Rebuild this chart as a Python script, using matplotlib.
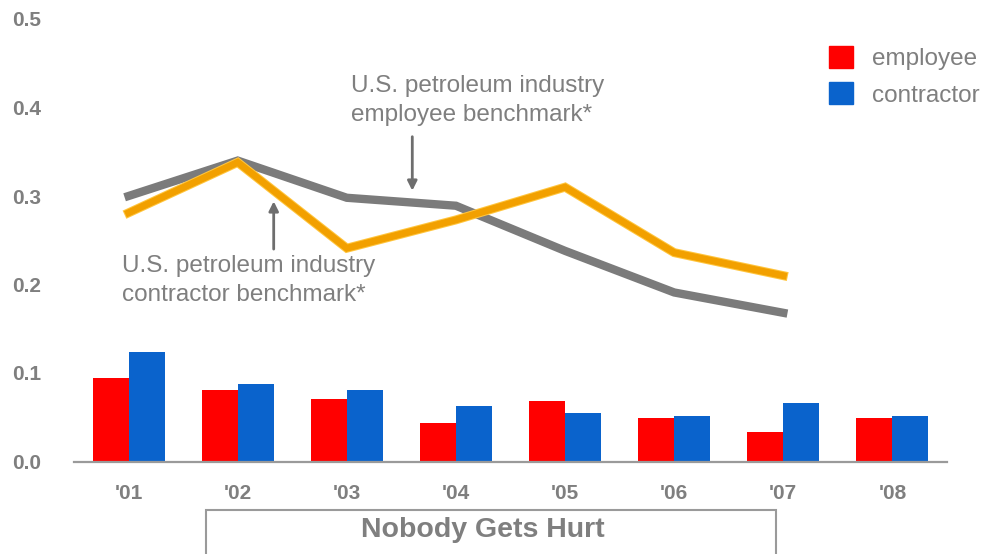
import matplotlib
matplotlib.use("Agg")
import matplotlib.pyplot as plt
import matplotlib.patheffects as pe
from matplotlib.patches import Rectangle
import numpy as np

plt.rcParams['font.family'] = ['Liberation Sans', 'DejaVu Sans']

# ---- data ----
years = ["'01", "'02", "'03", "'04", "'05", "'06", "'07", "'08"]
employee = [0.094, 0.081, 0.071, 0.043, 0.068, 0.049, 0.033, 0.049]
contractor = [0.124, 0.088, 0.081, 0.063, 0.055, 0.051, 0.066, 0.051]
bench_employee = [0.300, 0.340, 0.298, 0.289, 0.238, 0.191, 0.168]
bench_contractor = [0.281, 0.338, 0.241, 0.273, 0.310, 0.236, 0.210]
yticks = [0.0, 0.1, 0.2, 0.3, 0.4, 0.5]

RED = '#FF0000'
BLUE = '#0A63CC'
GRAY_TXT = '#7F7F7F'
GRAY_LINE = '#7B7B7B'
ORANGE = '#F2A000'

W, H = 985, 554
fig = plt.figure(figsize=(W / 100, H / 100), dpi=100)
ax_l = 74 / W
ax_r = 947 / W
ax_b = (H - 461.5) / H
ax_t = (H - 19) / H
ax = fig.add_axes([ax_l, ax_b, ax_r - ax_l, ax_t - ax_b])

x = np.arange(len(years))
bw = 0.33
ax.bar(x - bw / 2, employee, width=bw, color=RED, zorder=2)
ax.bar(x + bw / 2, contractor, width=bw, color=BLUE, zorder=2)

xl = np.arange(len(bench_employee))
ax.plot(xl, bench_employee, color=GRAY_LINE, lw=6.0, solid_joinstyle='miter',
        solid_capstyle='projecting', zorder=3)
ax.plot(xl, bench_contractor, color=ORANGE, lw=5.0, solid_joinstyle='miter',
        solid_capstyle='projecting', zorder=4,
        path_effects=[pe.Stroke(linewidth=6.5, foreground='#FFC640'), pe.Normal()])

ax.set_xlim(-0.5, 7.5)
ax.set_ylim(0, 0.5)
ax.set_xticks(x)
ax.set_xticklabels(years)
ax.set_yticks(yticks)
ax.set_yticklabels([f"{v:.1f}" for v in yticks])
ax.tick_params(axis='both', length=0, labelsize=15, labelcolor=GRAY_TXT)
ax.tick_params(axis='y', pad=23.5)
ax.tick_params(axis='x', pad=16)
for lab in ax.get_xticklabels() + ax.get_yticklabels():
    lab.set_fontweight('bold')
for s in ['top', 'right', 'left']:
    ax.spines[s].set_visible(False)
ax.spines['bottom'].set_color('#9A9A9A')
ax.spines['bottom'].set_linewidth(1.6)

# annotations
ann_fs = 17.5
ax.text(2.04, 0.408, "U.S. petroleum industry\nemployee benchmark*", fontsize=ann_fs,
        color=GRAY_TXT, ha='left', va='center', linespacing=1.42)
ax.text(-0.06, 0.205, "U.S. petroleum industry\ncontractor benchmark*", fontsize=ann_fs,
        color=GRAY_TXT, ha='left', va='center', linespacing=1.42)
ax.annotate('', xy=(2.6, 0.306), xytext=(2.6, 0.367),
            arrowprops=dict(arrowstyle='-|>', color='#6E6E6E', lw=2.0,
                            mutation_scale=14, shrinkA=0, shrinkB=0))
ax.annotate('', xy=(1.33, 0.294), xytext=(1.33, 0.240),
            arrowprops=dict(arrowstyle='-|>', color='#6E6E6E', lw=2.0,
                            mutation_scale=14, shrinkA=0, shrinkB=0))

# legend
handles = [Rectangle((0, 0), 1, 1, color=RED), Rectangle((0, 0), 1, 1, color=BLUE)]
fig.legend(handles, ['employee', 'contractor'], loc='upper left',
           bbox_to_anchor=(829 / W, 1 - 46 / H), frameon=False, fontsize=ann_fs,
           handlelength=1.0, handleheight=1.0, handletextpad=0.75,
           labelspacing=0.5, borderpad=0, borderaxespad=0, labelcolor=GRAY_TXT)

# title box
fig.patches.append(Rectangle((206 / W, -0.05), (776 - 206) / W, (H - 510) / H + 0.05,
                             transform=fig.transFigure, fill=False,
                             edgecolor='#9A9A9A', lw=1.5))
fig.text(483 / W, 1 - 530 / H, "Nobody Gets Hurt", fontsize=20.5, fontweight='bold',
         color=GRAY_TXT, ha='center', va='center')

fig.savefig('out.png', dpi=100)
